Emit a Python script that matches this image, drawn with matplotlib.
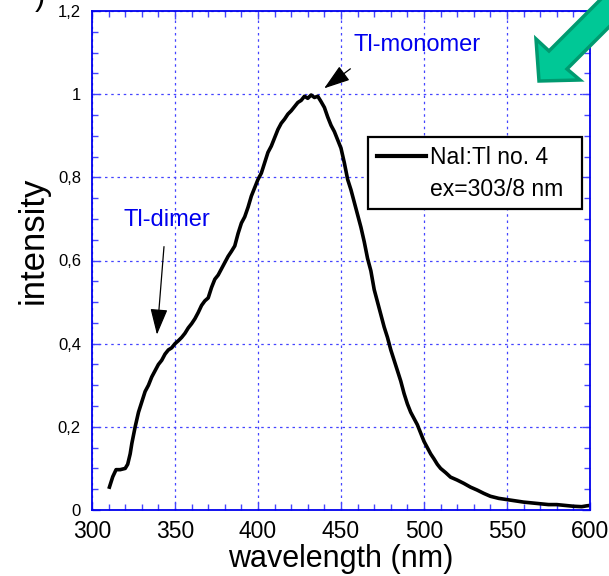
import matplotlib
matplotlib.use('Agg')
from matplotlib import pyplot as plt
from matplotlib.patches import Polygon, Rectangle
from matplotlib.lines import Line2D
from matplotlib.ticker import MultipleLocator, FixedLocator, FixedFormatter

plt.rcParams['font.family'] = ['Liberation Sans', 'DejaVu Sans']

# emission spectrum
wavelength = [310.5, 312.5, 314.5, 317, 320, 321.5, 323, 324, 326, 328, 330, 332,
              334, 336, 338, 340, 342, 344, 346, 348, 350, 352, 354, 356, 358,
              360, 362, 364, 366, 368, 370, 372, 374, 376, 378, 380, 382, 384,
              386, 388, 390, 392, 394, 396, 398, 400, 402, 404, 406, 408, 410,
              412, 414, 416, 418, 420, 422, 424, 426, 428, 430, 432, 434, 436,
              438, 440, 442, 444, 446, 448, 450, 452, 454, 456, 458, 460, 462,
              464, 466, 468, 470, 472, 474, 476, 478, 480, 482, 484, 486, 488,
              490, 492, 494, 496, 498, 500, 502, 504, 506, 508, 510, 513, 516,
              520, 524, 528, 532, 536, 540, 545, 550, 555, 560, 565, 570, 575,
              580, 585, 590, 595, 598, 600]
intensity = [0.055, 0.08, 0.097, 0.097, 0.10, 0.11, 0.135, 0.16, 0.20, 0.235, 0.26, 0.285,
             0.30, 0.32, 0.335, 0.35, 0.36, 0.375, 0.385, 0.39, 0.40, 0.407, 0.415, 0.425, 0.438,
             0.448, 0.46, 0.475, 0.492, 0.503, 0.51, 0.535, 0.555, 0.565, 0.58, 0.595, 0.61, 0.622,
             0.635, 0.665, 0.69, 0.705, 0.728, 0.755, 0.775, 0.795, 0.81, 0.835, 0.86, 0.875, 0.895,
             0.915, 0.93, 0.94, 0.952, 0.96, 0.97, 0.98, 0.985, 0.995, 0.99, 0.998, 0.992, 0.995,
             0.982, 0.968, 0.945, 0.925, 0.91, 0.89, 0.87, 0.835, 0.795, 0.77, 0.74, 0.71, 0.68,
             0.645, 0.605, 0.575, 0.53, 0.50, 0.47, 0.44, 0.415, 0.385, 0.36, 0.335, 0.31, 0.28,
             0.255, 0.235, 0.22, 0.205, 0.185, 0.165, 0.15, 0.135, 0.123, 0.11, 0.10, 0.09, 0.079,
             0.072, 0.064, 0.055, 0.048, 0.04, 0.033, 0.028, 0.025, 0.022, 0.019, 0.017, 0.015, 0.013,
             0.013, 0.011, 0.009, 0.008, 0.01, 0.011]

x_ticks = [300, 350, 400, 450, 500, 550, 600]
y_ticks = [0, 0.2, 0.4, 0.6, 0.8, 1.0, 1.2]
y_labels = ['0', '0,2', '0,4', '0,6', '0,8', '1', '1,2']

blue = '#0000ee'
gridblue = '#4444ff'

fig = plt.figure(figsize=(6.09, 5.76), dpi=100)
ax = fig.add_axes([92/609, 1 - 510/576, 498/609, 499/576])

ax.plot(wavelength, intensity, color='black', lw=2.6, solid_joinstyle='round')

ax.set_xlim(300, 600)
ax.set_ylim(0, 1.2)
ax.xaxis.set_major_locator(FixedLocator(x_ticks))
ax.xaxis.set_minor_locator(MultipleLocator(10))
ax.yaxis.set_major_locator(FixedLocator(y_ticks))
ax.yaxis.set_major_formatter(FixedFormatter(y_labels))
ax.yaxis.set_minor_locator(MultipleLocator(0.05))

for s in ax.spines.values():
    s.set_color(blue)
    s.set_linewidth(1.3)
ax.tick_params(which='both', direction='in', top=True, right=True, color=gridblue)
ax.tick_params(which='major', length=6, width=1)
ax.tick_params(which='minor', length=4.5, width=1)
ax.tick_params(axis='x', labelsize=16.5, pad=7)
ax.tick_params(axis='y', labelsize=12, pad=8)
ax.grid(True, which='major', color=gridblue, linestyle=(0, (2, 3)), lw=0.9)

ax.set_xlabel('wavelength (nm)', fontsize=22, labelpad=1)
ax.set_ylabel('intensity', fontsize=25)
ax.yaxis.set_label_coords(-0.085, 0.54)

# annotations
head = '-|>,head_length=0.9,head_width=0.3'
ax.text(496, 1.118, 'Tl-monomer', color=blue, fontsize=17, ha='center', va='center')
ax.annotate('', xy=(438.5, 1.01), xytext=(457, 1.065),
            arrowprops=dict(arrowstyle=head, color='black', lw=0.9, mutation_scale=18))
ax.text(345, 0.697, 'Tl-dimer', color=blue, fontsize=17, ha='center', va='center')
ax.annotate('', xy=(339, 0.415), xytext=(343.5, 0.64),
            arrowprops=dict(arrowstyle=head, color='black', lw=0.9, mutation_scale=18))

# legend box
def fx(px):
    return (px - 92) / 498
def fy(py):
    return (510 - py) / 499

ax.add_patch(Rectangle((fx(368), fy(209)), fx(582) - fx(368), fy(137) - fy(209),
                       transform=ax.transAxes, facecolor='white', edgecolor='black',
                       lw=1.6, zorder=5))
ax.add_line(Line2D([fx(377), fx(426)], [fy(156), fy(156)], transform=ax.transAxes,
                   color='black', lw=3, zorder=6))
ax.text(fx(430), fy(158), 'NaI:Tl no. 4', transform=ax.transAxes, fontsize=16.5,
        va='center', ha='left', zorder=6)
ax.text(fx(430), fy(190), 'ex=303/8 nm', transform=ax.transAxes, fontsize=16.5,
        va='center', ha='left', zorder=6)

# green arrow in the corner
pts = [(539, 81), (536, 39), (549, 51), (619, -19), (637, -1), (567, 69), (580, 80)]
arrow = Polygon([(x / 609, 1 - y / 576) for x, y in pts], closed=True,
                transform=fig.transFigure, facecolor='#00c896', edgecolor='#009a70',
                lw=2.5, zorder=10)
fig.patches.append(arrow)

fig.text(40 / 609, 1 - 12 / 576, ')', fontsize=22, va='bottom', ha='center')

fig.savefig('out.png', dpi=100)
